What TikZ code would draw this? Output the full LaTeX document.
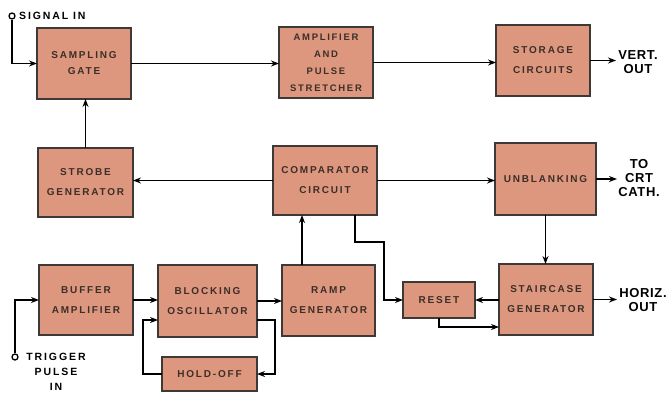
\documentclass[tikz,border=0pt]{standalone}
\usepackage{fontspec}
\newfontfamily\boxfont[LetterSpace=18]{Liberation Sans}
\newfontfamily\lblfont[LetterSpace=18]{Liberation Sans}
\newfontfamily\outfont[LetterSpace=5]{Liberation Sans}
\usetikzlibrary{arrows.meta}
\definecolor{boxfill}{RGB}{221,151,126}
\definecolor{boxline}{RGB}{62,56,54}
\definecolor{boxtext}{RGB}{60,46,40}
\begin{document}
\begin{tikzpicture}[x=1pt,y=-1pt,
  blk/.style={draw=boxline, fill=boxfill, line width=1.5pt, inner sep=0pt, outer sep=0pt,
    align=center, text=boxtext, font=\boxfont\bfseries\fontsize{10}{20}\selectfont},
  conn/.style={line width=1.6pt, draw=black},
  arr/.style={conn, -{Stealth[length=8pt,width=6pt]}},
  term/.style={circle, draw=black, line width=1.3pt, minimum size=6pt, inner sep=0pt, fill=white},
  lbl/.style={font=\lblfont\bfseries\fontsize{10.5}{15}\selectfont, inner sep=0pt, align=center},
  olbl/.style={font=\outfont\bfseries\fontsize{13}{14}\selectfont, inner sep=0pt, align=center}]
\useasboundingbox (0,0) rectangle (669,396);
\fill[white] (0,0) rectangle (669,396);

% blocks
\node[blk, minimum width=94pt, minimum height=71pt, font=\boxfont\bfseries\fontsize{10}{16}\selectfont] (samp) at (84,63.5) {SAMPLING\\GATE};
\node[blk, minimum width=94pt, minimum height=71pt, font=\boxfont\bfseries\fontsize{9.5}{17}\selectfont] (amp) at (326,62.5) {AMPLIFIER\\AND\\PULSE\\STRETCHER};
\node[blk, minimum width=94pt, minimum height=71pt] (stor) at (543,60.5) {STORAGE\\CIRCUITS};
\node[blk, minimum width=95pt, minimum height=69pt] (strobe) at (85.5,182.5) {STROBE\\GENERATOR};
\node[blk, minimum width=104pt, minimum height=69pt] (comp) at (325,180.5) {COMPARATOR\\CIRCUIT};
\node[blk, minimum width=101pt, minimum height=72pt] (unbl) at (545.5,179) {UNBLANKING};
\node[blk, minimum width=94pt, minimum height=70pt] (buf) at (86,300) {BUFFER\\AMPLIFIER};
\node[blk, minimum width=99pt, minimum height=72pt] (block) at (207.5,301) {BLOCKING\\OSCILLATOR};
\node[blk, minimum width=95pt, minimum height=34pt] (hold) at (209.5,374) {HOLD-OFF};
\node[blk, minimum width=93pt, minimum height=71pt] (ramp) at (328.5,300.5) {RAMP\\GENERATOR};
\node[blk, minimum width=72pt, minimum height=36pt] (reset) at (439,300) {RESET};
\node[blk, minimum width=94pt, minimum height=71pt] (stair) at (546,299.5) {STAIRCASE\\GENERATOR};

% terminals and labels
\node[term] (sigc) at (12,16) {};
\node[lbl, anchor=west] (sigl) at (19,16) {SIGNAL IN};
\node[term] (trigc) at (15,357) {};
\node[lbl] (trigl) at (56,372) {TRIGGER\\PULSE\\IN};
\node[olbl] (voutl) at (638,62) {VERT.\\OUT};
\node[olbl] (crtl) at (639,178) {TO\\CRT\\CATH.};
\node[olbl] (houtl) at (643,300) {HORIZ.\\OUT};
\coordinate (vout) at (616,60.5);
\coordinate (crt) at (617,179);
\coordinate (hout) at (617,299.5);
\coordinate (bend1) at (384,242);

% connectors
\draw[arr] (sigc.south) |- (samp.west);
\draw[arr] (samp.east) -- (amp.west |- samp.east);
\draw[arr] (amp.east) -- (stor.west |- amp.east);
\draw[arr] (stor.east) -- (vout);
\draw[arr] (strobe.north) -- (samp.south -| strobe.north);
\draw[arr] (comp.west) -- (strobe.east |- comp.west);
\draw[arr] (comp.east) -- (unbl.west |- comp.east);
\draw[arr] (unbl.east) -- (crt);
\draw[arr] (unbl.south) -- (stair.north -| unbl.south);
\draw[arr] (stair.west |- reset.east) -- (reset.east);
\draw[arr] (reset.south) |- ([yshift=8pt]stair.south west);
\draw[arr] (stair.east) -- (hout);
\draw[arr] ([xshift=30pt]comp.south) |- (bend1) |- (reset.west);
\draw[arr] ([xshift=-26.5pt]ramp.north) -- ([xshift=-26.5pt]ramp.north |- comp.south);
\draw[arr] (buf.east) -- (block.west |- buf.east);
\draw[arr] (block.east) -- (ramp.west |- block.east);
\draw[arr] ([yshift=-19pt]block.east) -- ++(18,0) |- (hold.east);
\draw[arr] (hold.west) -- ++(-19,0) |- ([yshift=-19pt]block.west);
\draw[arr] (trigc.north) |- (buf.west);
\end{tikzpicture}
\end{document}
